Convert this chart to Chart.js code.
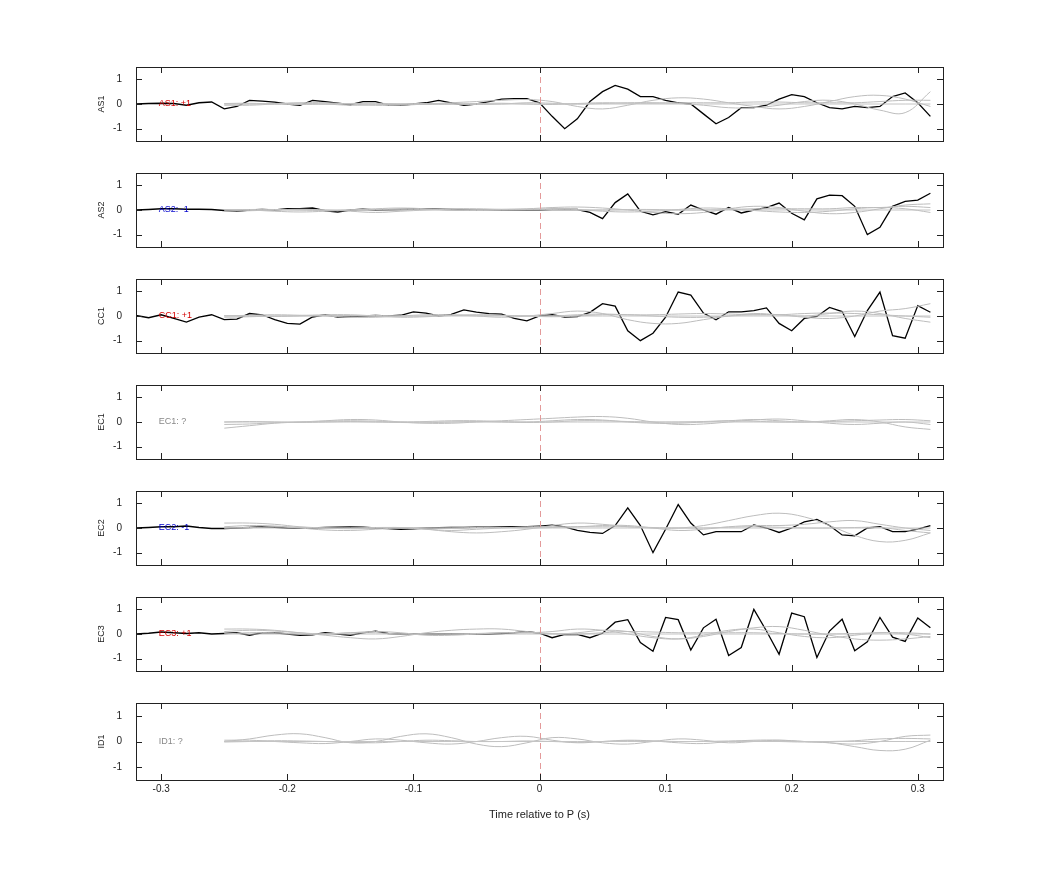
<!DOCTYPE html>
<html><head><meta charset="utf-8">
<script src="https://cdn.jsdelivr.net/npm/chart.js@4"></script>
<style>body{margin:0;background:#fff;width:1042px;height:875px;position:relative;overflow:hidden}canvas{position:absolute}</style>
</head><body>
<script>
const stations = ["AS1","AS2","CC1","EC1","EC2","EC3","ID1"];
const polarity = ["+1","-1","+1","?","-1","+1","?"];
const xTicks = [-0.3,-0.2,-0.1,0,0.1,0.2,0.3];
const yTicks = [-1,0,1];
const tBlack = Array.from({length:64},(_, i)=>+(-0.32+i*0.01).toFixed(2));
const tGray = Array.from({length:29},(_, i)=>+(-0.25+i*0.02).toFixed(2));

const blackAS1 = [0,0.02,0.03,0.02,-0.05,0.05,0.08,-0.2,-0.1,0.15,0.12,0.08,0,-0.05,0.15,0.1,0.03,-0.03,0.1,0.1,-0.05,-0.05,0,0.05,0.15,0.05,-0.05,0,0.1,0.2,0.22,0.22,
 0.05,-0.5,-1.0,-0.6,0.1,0.5,0.75,0.6,0.3,0.3,0.15,0.05,0.0,-0.4,-0.8,-0.55,-0.15,-0.15,-0.05,0.2,0.38,0.3,0.05,-0.15,-0.2,-0.1,-0.15,-0.1,0.3,0.45,0.05,-0.5];
const blackAS2 = [0,0.02,0.05,0.05,0.03,0.03,0.02,-0.02,-0.05,0,0.02,0,0.05,0.05,0.08,-0.03,-0.08,0,0.03,0,0.01,0.02,0.03,0.04,0.03,0.02,0,-0.01,0,0,0,0.01,
 0,0.02,0.02,0.02,-0.1,-0.35,0.3,0.65,-0.05,-0.2,-0.07,-0.17,0.2,0,-0.17,0.1,-0.12,0.0,0.1,0.28,-0.13,-0.4,0.45,0.6,0.58,0.15,-1.0,-0.7,0.15,0.35,0.4,0.68];
const blackCC1 = [0.02,-0.07,0.05,-0.1,-0.25,-0.05,0.05,-0.15,-0.13,0.1,0.05,-0.15,-0.3,-0.33,-0.04,0.05,-0.04,-0.02,0,0.02,0,0.03,0.17,0.12,0,0.07,0.25,0.16,0.1,0.08,-0.1,-0.2,
 0.0,0.05,-0.04,-0.02,0.15,0.5,0.4,-0.6,-1.0,-0.7,-0.05,0.97,0.85,0.12,-0.15,0.17,0.17,0.22,0.33,-0.3,-0.6,-0.1,-0.02,0.35,0.18,-0.83,0.22,0.97,-0.8,-0.9,0.42,0.15];
const blackEC1 = null;
const blackEC2 = [0,0.02,0.05,0.05,0.08,0.02,-0.02,-0.02,0,0.02,0.05,0.03,0,-0.01,0,0.02,0.03,0.04,0.03,0,-0.02,-0.05,-0.03,0,0.01,0.02,0.02,0.03,0.03,0.04,0.05,0.05,
 0.08,0.12,0.05,-0.1,-0.18,-0.22,0.1,0.82,0.1,-1.0,-0.05,0.95,0.2,-0.28,-0.15,-0.15,-0.15,0.12,0.0,-0.18,0.0,0.25,0.35,0.1,-0.28,-0.32,0.0,0.05,-0.15,-0.15,-0.05,0.1];
const blackEC3 = [0,0.03,0.08,0.05,0.02,0.05,0,0.02,0.05,-0.05,0.05,0.05,0,-0.05,-0.03,0.05,0,-0.05,0.05,0.12,0.02,0,0,0,0,0,0,0,0,0.02,0.05,0.1,
 0.03,-0.15,-0.02,-0.02,-0.15,0.03,0.48,0.58,-0.35,-0.7,0.67,0.58,-0.65,0.25,0.6,-0.87,-0.55,1.0,0.12,-0.82,0.85,0.7,-0.95,0.12,0.6,-0.68,-0.32,0.67,-0.13,-0.3,0.65,0.25];
const blackID1 = null;

// gray (other-solution) traces, sampled at tGray
const grayAS1 = [
 [0,0,0.02,0.05,0.05,0,-0.05,-0.05,0,0.05,0.1,0.15,0.18,0.1,-0.1,-0.2,-0.05,0.15,0.25,0.2,0.05,-0.1,-0.2,-0.1,0.1,0.3,0.35,0.2,-0.1],
 [-0.05,-0.05,0,0.03,0,-0.05,-0.03,0,0.02,0,-0.02,0,0.05,0.03,0,0.02,0.05,0.05,0.02,-0.05,-0.15,-0.15,-0.05,0.1,0.15,0,-0.25,-0.35,0.5],
 [0.02,0.03,0,-0.02,0,0.02,0.03,0,-0.02,0,0.02,0.03,0,-0.02,0.02,0.05,0.03,0.03,0.05,0.05,0.05,0.08,0.08,0.05,0.05,0.05,0.1,0.15,0.15]];
const grayAS2 = [
 [-0.05,-0.03,0,0.03,0,-0.05,-0.1,-0.05,0,0.05,0.05,0.03,0.05,0.1,0.12,0.08,0,-0.1,-0.15,-0.1,0.05,0.15,0.1,-0.05,-0.15,-0.1,0.05,0.2,0.25],
 [0.02,0,-0.05,-0.08,-0.05,0,0.05,0.08,0.05,0,-0.02,0,0.02,0.05,0.02,-0.05,-0.08,-0.05,0.02,0.08,0.05,-0.02,-0.08,-0.1,-0.05,0.05,0.1,0.05,-0.1],
 [0,0.02,0.02,0,-0.02,0,0.02,0.03,0.02,0,0,0.02,0.03,0.02,0,0,0.02,0.02,0,0,0.02,0.05,0.05,0.05,0.05,0.1,0.1,0.15,0.1]];
const grayCC1 = [
 [0,0.03,0.05,0.03,0,-0.05,-0.05,0,0.05,0.05,0,-0.05,0,0.1,0.2,0.1,-0.15,-0.3,-0.3,-0.15,0,0.1,0.05,0,0.1,0.2,0.1,-0.1,-0.25],
 [-0.05,-0.03,0,0.02,0.05,0.05,0,-0.05,-0.03,0.02,0.05,0.03,0,-0.03,0,0.05,0.05,0,-0.05,-0.05,0,0.05,0.05,-0.05,-0.1,0,0.2,0.3,0.5],
 [0.02,0,-0.02,0,0.02,0.02,0.02,0,0,0.02,0.03,0.02,0,0,0.05,0.08,0.05,0.05,0.08,0.1,0.08,0.05,0.05,0.1,0.12,0.1,0.05,0,-0.05]];
const grayEC1 = [
 [-0.25,-0.15,-0.05,0,0.05,0.1,0.08,0,-0.05,-0.05,0,0.05,0.1,0.15,0.2,0.22,0.15,0,-0.1,-0.08,0,0.08,0.12,0.05,-0.05,-0.1,-0.05,0,-0.1],
 [-0.1,-0.08,-0.03,0,0.03,0.05,0.03,0,0.02,0.05,0.05,0.02,0,0.05,0.1,0.08,0,-0.05,-0.05,0,0.05,0.1,0.05,0,0.05,0.1,0,-0.2,-0.3],
 [0,0.02,0,-0.02,0,0.02,0,-0.02,-0.03,0,0.02,0,-0.02,0,0.05,0.05,0.02,0,0,0.02,0.05,0.03,0,0,0.02,0.05,0.08,0.1,0.05]];
const grayEC2 = [
 [0.2,0.2,0.15,0.05,0,-0.03,0,0.02,-0.05,-0.15,-0.2,-0.15,-0.05,0.1,0.2,0.15,0.05,0,0,0.1,0.3,0.5,0.6,0.45,0.1,-0.3,-0.55,-0.5,-0.2],
 [0.05,0.1,0.08,0,-0.08,-0.1,-0.05,0,-0.05,-0.1,-0.05,0,0.05,0.05,0.05,0.1,0.1,0,-0.1,-0.05,0.05,0.1,0.1,0.15,0.25,0.3,0.15,0,-0.1],
 [0,0.02,0.05,0.03,0,0,0.02,0.02,0,0,0.02,0.02,0,0.02,0.05,0.05,0.05,0.02,0,0,0.03,0.05,0.03,0,0,0.02,0.02,-0.1,-0.2]];
const grayEC3 = [
 [0.2,0.2,0.15,0.05,-0.05,-0.15,-0.2,-0.1,0.05,0.15,0.2,0.2,0.1,0,0.05,0.15,0.1,-0.1,-0.2,-0.1,0.1,0.25,0.3,0.15,-0.05,-0.2,-0.25,-0.2,-0.1],
 [0.1,0.15,0.12,0.05,0,0.05,0.1,0.05,-0.05,-0.05,0,0.05,0.05,0.1,0.2,0.15,0,-0.15,-0.2,-0.05,0.15,0.2,0.05,-0.1,-0.15,-0.05,0.05,0,-0.15],
 [0,0.05,0.05,0,0,0.05,0.05,0,0,0,0.02,0.05,0.05,0.02,0,0.05,0.1,0.08,0.05,0.05,0.05,0.05,0.02,0,0,0.02,0.05,0.05,0]];
const grayID1 = [
 [0,0.1,0.25,0.3,0.15,-0.05,0,0.2,0.3,0.15,-0.1,-0.2,-0.05,0.15,0.1,-0.05,-0.1,0,0.1,0.05,-0.05,0,0.05,0,-0.05,-0.2,-0.35,-0.3,0.05],
 [0.05,0.05,0,-0.05,-0.08,0,0.1,0.05,-0.05,-0.1,0,0.15,0.2,0.05,-0.05,0,0.05,0.02,-0.05,-0.08,0,0.05,0.05,0,-0.05,-0.1,0,0.2,0.25],
 [-0.02,0,0.03,0.02,0,-0.03,-0.05,0,0.05,0.03,0,0,0.02,0,-0.03,0,0.03,0.02,0,0,0.02,0.02,0,-0.02,0,0.03,0.1,0.12,0.1]];

const blacks = [blackAS1,blackAS2,blackCC1,blackEC1,blackEC2,blackEC3,blackID1];
const grays = [grayAS1,grayAS2,grayCC1,grayEC1,grayEC2,grayEC3,grayID1];
const labelColors = {"+1":"#d40000","-1":"#0000cc","?":"#888888"};

const frame = {
  id:'frame',
  afterDatasetsDraw(c){
    const {ctx, chartArea:a, scales:{x,y}} = c;
    ctx.save();
    ctx.strokeStyle='#e39a9a'; ctx.lineWidth=1; ctx.setLineDash([6,4]);
    const x0 = Math.round(x.getPixelForValue(0))+0.5;
    ctx.beginPath(); ctx.moveTo(x0,a.top); ctx.lineTo(x0,a.bottom); ctx.stroke();
    ctx.setLineDash([]);
    ctx.strokeStyle='#222'; ctx.lineWidth=1;
    ctx.strokeRect(Math.round(a.left)+0.5,Math.round(a.top)+0.5,Math.round(a.right-a.left),Math.round(a.bottom-a.top));
    ctx.beginPath();
    xTicks.forEach(v=>{const p=Math.round(x.getPixelForValue(v))+0.5;ctx.moveTo(p,a.top);ctx.lineTo(p,a.top+6);ctx.moveTo(p,a.bottom);ctx.lineTo(p,a.bottom-6);});
    yTicks.forEach(v=>{const p=Math.round(y.getPixelForValue(v))+0.5;ctx.moveTo(a.left,p);ctx.lineTo(a.left+6,p);ctx.moveTo(a.right,p);ctx.lineTo(a.right-6,p);});
    ctx.stroke();
    const i=c.options.plugins.frame.idx;
    ctx.font='9px "Liberation Sans", Arial, sans-serif';
    ctx.fillStyle=labelColors[polarity[i]];
    ctx.textBaseline='middle'; ctx.textAlign='left';
    ctx.fillText(stations[i]+': '+polarity[i], x.getPixelForValue(-0.302), y.getPixelForValue(0));
    ctx.restore();
  }
};

stations.forEach((s,i)=>{
  const last = i===6;
  const top = 67+i*106;
  const cv = document.createElement('canvas');
  const H = last?135:98;
  cv.style.left='96px'; cv.style.top=(top-12)+'px';
  cv.style.width='859px'; cv.style.height=H+'px';
  cv.width=859; cv.height=H;
  document.body.appendChild(cv);
  const ds=[];
  ds.push({data:tGray.map(t=>({x:t,y:0})),borderColor:'#c4c4c4',borderWidth:1,tension:0});
  grays[i].forEach(g=>ds.push({data:tGray.map((t,k)=>({x:t,y:g[k]})),borderColor:'#bdbdbd',borderWidth:1,tension:0.4}));
  if(blacks[i]) ds.push({data:tBlack.map((t,k)=>({x:t,y:blacks[i][k]})),borderColor:'#000',borderWidth:1.3,tension:0});
  const xOpts = last ? {type:'linear',min:-0.32,max:0.32,display:true,
          afterBuildTicks:sc=>{sc.ticks=xTicks.map(v=>({value:v}));},
          afterFit:sc=>{sc.height=46;},
          grid:{display:false,drawTicks:false},border:{display:false},
          ticks:{color:'#222',font:{size:10,family:'"Liberation Sans", Arial'},padding:3,callback:v=>v===0?'0':String(v)},
          title:{display:true,text:'Time relative to P (s)',color:'#222',font:{size:11,family:'"Liberation Sans", Arial'},padding:{top:18}}}
        : {type:'linear',min:-0.32,max:0.32,display:false};
  new Chart(cv,{type:'line',data:{datasets:ds},plugins:[frame],
    options:{responsive:false,animation:false,devicePixelRatio:1,
      layout:{padding:{top:5,bottom:last?0:5,right:12,left:0}},
      elements:{point:{radius:0}},
      plugins:{legend:{display:false},tooltip:{enabled:false},frame:{idx:i}},
      scales:{
        x:xOpts,
        y:{type:'linear',min:-1.5,max:1.5,
          afterBuildTicks:sc=>{sc.ticks=yTicks.map(v=>({value:v}));},
          afterFit:sc=>{sc.width=40;},
          grid:{display:false},border:{display:false},
          ticks:{color:'#222',font:{size:10,family:'"Liberation Sans", Arial'},padding:6},
          title:{display:true,text:s,color:'#222',font:{size:9,family:'"Liberation Sans", Arial'},padding:0}}
      }}});
});
</script>
</body></html>
